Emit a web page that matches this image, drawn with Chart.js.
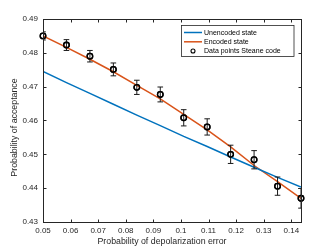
<!DOCTYPE html>
<html>
<head>
<meta charset="utf-8">
<script src="https://cdn.jsdelivr.net/npm/chart.js@4/dist/chart.umd.min.js"></script>
<style>
html,body{margin:0;padding:0;background:#fff;}
canvas{display:block;}
</style>
</head>
<body>
<canvas id="c" width="333" height="250"></canvas>
<script>
// ---- data ----
const xValues = [0.05, 0.0585, 0.067, 0.0755, 0.084, 0.0925, 0.101, 0.1095, 0.118, 0.1265, 0.135, 0.1435];
const unencodedValues = [0.4745, 0.4712, 0.4680, 0.4648, 0.4616, 0.4585, 0.4553, 0.4523, 0.4492, 0.4462, 0.4432, 0.4403];
const encodedValues = [0.4850, 0.4816, 0.4781, 0.4744, 0.4704, 0.4664, 0.4618, 0.4572, 0.4522, 0.4467, 0.4419, 0.4370];
const steaneValues = [0.4850, 0.4823, 0.4790, 0.4751, 0.4698, 0.4677, 0.4608, 0.4581, 0.4500, 0.4484, 0.4406, 0.4370];
const steaneErrors = [0.0012, 0.0016, 0.0017, 0.0019, 0.0021, 0.0022, 0.0024, 0.0024, 0.0027, 0.0027, 0.0027, 0.0029];
const xTickValues = [0.05, 0.06, 0.07, 0.08, 0.09, 0.1, 0.11, 0.12, 0.13, 0.14];
const yTickValues = [0.43, 0.44, 0.45, 0.46, 0.47, 0.48, 0.49];
const seriesLabels = ['Unencoded state', 'Encoded state', 'Data points Steane code'];
const xTitle = 'Probability of depolarization error';
const yTitle = 'Probability of acceptance';

const FONT = '"Liberation Sans", Arial, Helvetica, sans-serif';
const AXIS = '#262626';
const BLUE = '#0072BD';
const ORANGE = '#D95319';

function pts(ys){ return xValues.map((x,i)=>({x:x, y:ys[i]})); }

const framePlugin = {
  id: 'frame',
  afterDatasetsDraw(chart){
    const ctx = chart.ctx, a = chart.chartArea;
    const xs = chart.scales.x, ys = chart.scales.y;
    // error bars
    const meta = chart.getDatasetMeta(2);
    ctx.save();
    ctx.beginPath();
    ctx.rect(a.left, a.top - 1, a.right - a.left, a.bottom - a.top + 2);
    ctx.clip();
    ctx.strokeStyle = '#1a1a1a';
    ctx.lineWidth = 1;
    xValues.forEach((x,i)=>{
      const px = xs.getPixelForValue(x);
      const yHi = ys.getPixelForValue(steaneValues[i] + steaneErrors[i]);
      const yLo = ys.getPixelForValue(steaneValues[i] - steaneErrors[i]);
      const cw = 2.8;
      ctx.beginPath();
      ctx.moveTo(px, yHi); ctx.lineTo(px, yLo);
      ctx.moveTo(px - cw, yHi); ctx.lineTo(px + cw, yHi);
      ctx.moveTo(px - cw, yLo); ctx.lineTo(px + cw, yLo);
      ctx.stroke();
    });
    ctx.restore();
    // redraw markers on top of bars
    meta.data.forEach(el => el.draw(ctx));

    // box
    ctx.save();
    ctx.strokeStyle = AXIS;
    ctx.lineWidth = 1;
    const L = Math.round(a.left) + 0.5, R = Math.round(a.right) + 0.5;
    const T = Math.round(a.top) + 0.5, B = Math.round(a.bottom) + 0.5;
    ctx.strokeRect(L, T, R - L, B - T);
    const tl = 3;
    ctx.beginPath();
    xTickValues.forEach(v=>{
      const px = Math.round(xs.getPixelForValue(v)) + 0.5;
      ctx.moveTo(px, B); ctx.lineTo(px, B - tl);
      ctx.moveTo(px, T); ctx.lineTo(px, T + tl);
    });
    yTickValues.forEach(v=>{
      const py = Math.round(ys.getPixelForValue(v)) + 0.5;
      ctx.moveTo(L, py); ctx.lineTo(L + tl, py);
      ctx.moveTo(R, py); ctx.lineTo(R - tl, py);
    });
    ctx.stroke();

    // axis titles
    ctx.fillStyle = AXIS;
    ctx.font = '8.8px ' + FONT;
    ctx.textAlign = 'center';
    ctx.textBaseline = 'middle';
    ctx.fillText(xTitle, 162, 241.5);
    ctx.save();
    ctx.translate(14.5, 127.5);
    ctx.rotate(-Math.PI/2);
    ctx.fillText(yTitle, 0, 0);
    ctx.restore();

    // legend
    const bx = 181.5, by = 25.5, bw = 112.5, bh = 31;
    ctx.fillStyle = '#fff';
    ctx.fillRect(bx, by, bw, bh);
    ctx.strokeStyle = AXIS;
    ctx.lineWidth = 0.8;
    ctx.strokeRect(bx, by, bw, bh);
    const rows = [32.5, 41.8, 51];
    const sx0 = 184, sx1 = 202, tx = 204;
    ctx.lineWidth = 1.5;
    ctx.strokeStyle = BLUE;
    ctx.beginPath(); ctx.moveTo(sx0, rows[0]); ctx.lineTo(sx1, rows[0]); ctx.stroke();
    ctx.strokeStyle = ORANGE;
    ctx.beginPath(); ctx.moveTo(sx0, rows[1]); ctx.lineTo(sx1, rows[1]); ctx.stroke();
    ctx.strokeStyle = '#000';
    ctx.lineWidth = 1.1;
    ctx.beginPath(); ctx.arc((sx0+sx1)/2, rows[2], 2, 0, Math.PI*2); ctx.stroke();
    ctx.fillStyle = '#000';
    ctx.font = '7px ' + FONT;
    ctx.textAlign = 'left';
    ctx.textBaseline = 'middle';
    seriesLabels.forEach((t,i)=> ctx.fillText(t, tx, rows[i] + 0.3));
    ctx.restore();
  }
};

new Chart(document.getElementById('c'), {
  type: 'scatter',
  data: {
    datasets: [
      { type:'line', label: seriesLabels[0], data: pts(unencodedValues), borderColor: BLUE, borderWidth: 1.5, pointRadius: 0, fill:false, tension: 0 },
      { type:'line', label: seriesLabels[1], data: pts(encodedValues), borderColor: ORANGE, borderWidth: 1.5, pointRadius: 0, fill:false, tension: 0 },
      { type:'scatter', label: seriesLabels[2], data: pts(steaneValues), borderColor: '#000', backgroundColor: 'rgba(0,0,0,0)', borderWidth: 1.3, pointRadius: 2.8, pointStyle: 'circle', clip: false }
    ]
  },
  options: {
    responsive: false,
    devicePixelRatio: 1,
    animation: false,
    events: [],
    layout: { padding: { top: 19, right: 32, left: 0, bottom: 0 } },
    plugins: { legend: { display: false }, tooltip: { enabled: false } },
    scales: {
      x: {
        type: 'linear', min: 0.05, max: 0.1435,
        afterBuildTicks(s){ s.ticks = xTickValues.map(v=>({value:v})); },
        afterFit(s){ s.height = 28; },
        grid: { display: false, drawTicks: false },
        border: { display: false },
        ticks: { color: AXIS, font: { family: FONT, size: 8 }, padding: 4, maxRotation: 0, autoSkip: false,
                 callback: v => String(+(+v).toFixed(3)) }
      },
      y: {
        type: 'linear', min: 0.43, max: 0.49,
        afterBuildTicks(s){ s.ticks = yTickValues.map(v=>({value:v})); },
        afterFit(s){ s.width = 43; },
        grid: { display: false, drawTicks: false },
        border: { display: false },
        ticks: { color: AXIS, font: { family: FONT, size: 8 }, padding: 5, autoSkip: false,
                 callback: v => (+v).toFixed(2) }
      }
    }
  },
  plugins: [framePlugin]
});
</script>
</body>
</html>
